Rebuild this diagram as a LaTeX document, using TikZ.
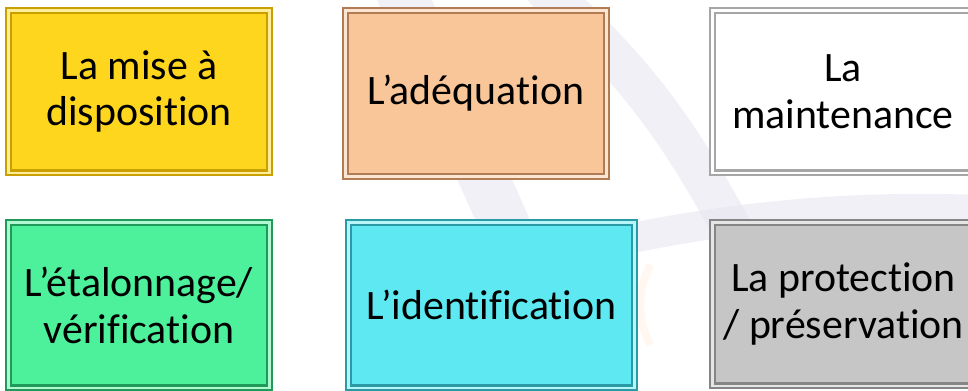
\documentclass[tikz,border=0pt]{standalone}
\usepackage{fontspec}
\setmainfont{Carlito}[Ligatures=NoCommon, RawFeature={-liga;-clig;-dlig}]
\usepackage{xcolor}
\usepackage{tikz}
\usetikzlibrary{
  positioning,
  calc
}
\definecolor{gridyellow}{HTML}{FFD61E}
\definecolor{gridyellowrim}{HTML}{C9A000}
\definecolor{gridpeach}{HTML}{F9C699}
\definecolor{gridpeachrim}{HTML}{B07B55}
\definecolor{gridwhite}{HTML}{FFFFFF}
\definecolor{gridwhiterim}{HTML}{A6A6A6}
\definecolor{gridgreen}{HTML}{4DF09B}
\definecolor{gridgreenrim}{HTML}{1F9A58}
\definecolor{gridcyan}{HTML}{5DE8F2}
\definecolor{gridcyanrim}{HTML}{2A9AA5}
\definecolor{gridgray}{HTML}{C6C6C6}
\definecolor{gridgrayrim}{HTML}{858585}
\definecolor{bandgray}{HTML}{E4E2EE}
\tikzstyle{bevelbox} = [
  rectangle, line width=2.2bp, double distance=2.4bp,
  align=center, inner sep=0pt,
  font=\fontsize{42}{47}\selectfont
]
\tikzstyle{yellowbox} = [bevelbox, fill=gridyellow, draw=gridyellowrim, double=gridyellow!45]
\tikzstyle{peachbox} = [bevelbox, fill=gridpeach, draw=gridpeachrim, double=gridpeach!45]
\tikzstyle{whitebox} = [bevelbox, fill=gridwhite, draw=gridwhiterim, double=white]
\tikzstyle{greenbox} = [bevelbox, fill=gridgreen, draw=gridgreenrim, double=gridgreen!45]
\tikzstyle{cyanbox} = [bevelbox, fill=gridcyan, draw=gridcyanrim, double=gridcyan!45]
\tikzstyle{graybox} = [bevelbox, fill=gridgray, draw=gridgrayrim, double=gridgray!45]
\tikzstyle{bandstyle} = [draw=bandgray, line cap=round, opacity=0.5]

\begin{document}
\begin{tikzpicture}[x=1bp, y=-1bp]
\useasboundingbox (0,0) rectangle (968,390);
\clip (0,0) rectangle (968,390);

% --- Background bands ---
\draw[bandstyle, line width=50bp] (400,-10) .. controls (440,80) .. (505,225);
\draw[bandstyle, line width=40bp] (545,-10) .. controls (660,90) and (700,170) .. (760,280);
\draw[bandstyle, line width=30bp] (520,265) .. controls (700,215) and (850,205) .. (980,210);
\draw[draw=orange!6, line width=8bp] (720,305) ++(150:80) arc[start angle=150, end angle=210, radius=80];

% --- Nodes ---
\node[yellowbox, minimum width=262, minimum height=163] (dispo) at (139,91.5) {La mise à\\disposition};
\node[peachbox, minimum width=262, minimum height=167] (adequation) at (476,93.5) {L’adéquation};
\node[whitebox, minimum width=262, minimum height=163] (maintenance) at (843,91.5) {La\\maintenance};
\node[greenbox, minimum width=262, minimum height=166] (etalonnage) at (139,305) {L’étalonnage/\\vérification};
\node[cyanbox, minimum width=287, minimum height=166] (identification) at (491.5,305) {L’identification};
\node[graybox, minimum width=263, minimum height=164] (protection) at (843.5,304) {La protection\\/ préservation};

\end{tikzpicture}
\end{document}
